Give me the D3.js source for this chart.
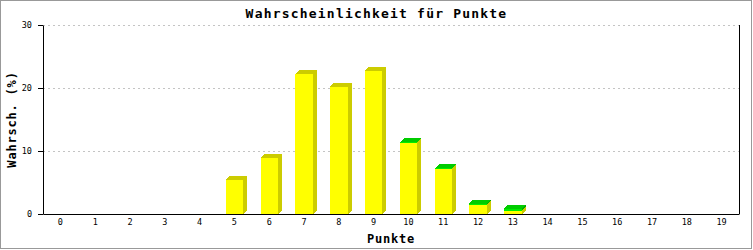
<!DOCTYPE html>
<html>
<head>
<meta charset="utf-8">
<script src="https://cdn.jsdelivr.net/npm/d3@7"></script>
<style>
  html, body { margin: 0; padding: 0; background: #fff; }
  svg { display: block; }
  text { font-family: "DejaVu Sans Mono", monospace; fill: #000; }
</style>
</head>
<body>
<div id="chart"></div>
<script>
// Punkte 0..19, Wahrscheinlichkeit in %
const categories = d3.range(0, 20).map(String);
const seriesYellow = [0, 0, 0, 0, 0, 5.4, 8.9, 22.2, 20.2, 22.7, 11.3, 7.2, 1.5, 0.55, 0, 0, 0, 0, 0, 0];
const seriesGreen = [0, 0, 0, 0, 0, 0, 0, 0, 0, 0, 0.1, 0.1, 0.1, 0.3, 0, 0, 0, 0, 0, 0];
const yTicks = [0, 10, 20, 30];

const W = 753, H = 250;
const m = { top: 25, right: 14, bottom: 36, left: 43 };
const depth = 4;

const svg = d3.select('#chart').append('svg')
  .attr('width', W).attr('height', H);

// Rahmen
svg.append('rect')
  .attr('x', 0.5).attr('y', 0.5)
  .attr('width', W - 2).attr('height', H - 2)
  .attr('fill', '#fff').attr('stroke', '#999');

const x = d3.scaleBand()
  .domain(categories)
  .range([m.left, W - m.right])
  .paddingInner(0.5).paddingOuter(0.25);

const y = d3.scaleLinear()
  .domain([0, 30])
  .range([H - m.bottom, m.top]);

// Gitterlinien
svg.append('g')
  .selectAll('line')
  .data(yTicks.filter(t => t > 0))
  .join('line')
  .attr('x1', m.left).attr('x2', W - m.right)
  .attr('y1', d => Math.round(y(d)) + 0.5).attr('y2', d => Math.round(y(d)) + 0.5)
  .attr('stroke', '#c4c4c4').attr('stroke-dasharray', '2,3');

// Balken (gestapelt, mit 3D-Tiefe)
const stacked = d3.stack().keys(['yellow', 'green'])(
  categories.map((c, i) => ({ cat: c, yellow: seriesYellow[i], green: seriesGreen[i] }))
);
const colors = {
  yellow: { front: '#ffff00', side: '#cccc00', top: '#cccc00' },
  green: { front: '#00ee00', side: '#00aa00', top: '#00cc00' }
};

const bars = svg.append('g').attr('shape-rendering', 'crispEdges');
categories.forEach((c, i) => {
  const total = seriesYellow[i] + seriesGreen[i];
  if (total <= 0) return;
  const x0 = Math.round(x(c));
  const x1 = Math.round(x(c) + x.bandwidth());
  const g = bars.append('g');
  stacked.forEach(layer => {
    const [v0, v1] = layer[i];
    if (v1 - v0 <= 0) return;
    const col = colors[layer.key];
    const yb = y(v0), yt = y(v1);
    // Seitenfläche
    g.append('path')
      .attr('d', `M${x1},${yt}L${x1 + depth},${yt - depth}L${x1 + depth},${yb - depth}L${x1},${yb}Z`)
      .attr('fill', col.side);
    // Vorderseite
    g.append('rect')
      .attr('x', x0).attr('y', yt)
      .attr('width', x1 - x0).attr('height', Math.max(0, yb - yt))
      .attr('fill', col.front);
  });
  // Deckfläche in der Farbe der obersten Serie
  const topKey = seriesGreen[i] > 0 ? 'green' : 'yellow';
  const yt = y(total);
  g.append('path')
    .attr('d', `M${x0},${yt}L${x0 + depth},${yt - depth}L${x1 + depth},${yt - depth}L${x1},${yt}Z`)
    .attr('fill', colors[topKey].top);
});

// Achsen
const axisY = svg.append('g')
  .attr('transform', `translate(${m.left},0)`)
  .call(d3.axisLeft(y).tickValues(yTicks).tickSize(5).tickPadding(6).tickSizeOuter(0));
axisY.select('.domain').attr('stroke', '#000');
axisY.selectAll('.tick line').attr('stroke', '#000');
axisY.selectAll('text').style('font-size', '8.5px').attr('dy', '0.35em');

const axisX = svg.append('g')
  .attr('transform', `translate(0,${H - m.bottom})`)
  .call(d3.axisBottom(x).tickSize(0).tickPadding(5).tickSizeOuter(0));
axisX.select('.domain').attr('stroke', '#000');
axisX.selectAll('text').style('font-size', '8.5px');

// rechte Begrenzung
svg.append('line')
  .attr('x1', W - m.right + 0.5).attr('x2', W - m.right + 0.5)
  .attr('y1', m.top).attr('y2', H - m.bottom)
  .attr('stroke', '#000');

// Titel
svg.append('text')
  .attr('x', W / 2).attr('y', 18)
  .attr('text-anchor', 'middle')
  .style('font-size', '13px').style('font-weight', 'bold').style('letter-spacing', '1.2px')
  .text('Wahrscheinlichkeit für Punkte');

svg.append('text')
  .attr('x', (m.left + W - m.right) / 2).attr('y', 243)
  .attr('text-anchor', 'middle')
  .style('font-size', '12px').style('font-weight', 'bold').style('letter-spacing', '0.8px')
  .text('Punkte');

svg.append('text')
  .attr('transform', `translate(16,${(m.top + H - m.bottom) / 2}) rotate(-90)`)
  .attr('text-anchor', 'middle')
  .style('font-size', '12px').style('font-weight', 'bold').style('letter-spacing', '0.8px')
  .text('Wahrsch. (%)');
</script>
</body>
</html>
